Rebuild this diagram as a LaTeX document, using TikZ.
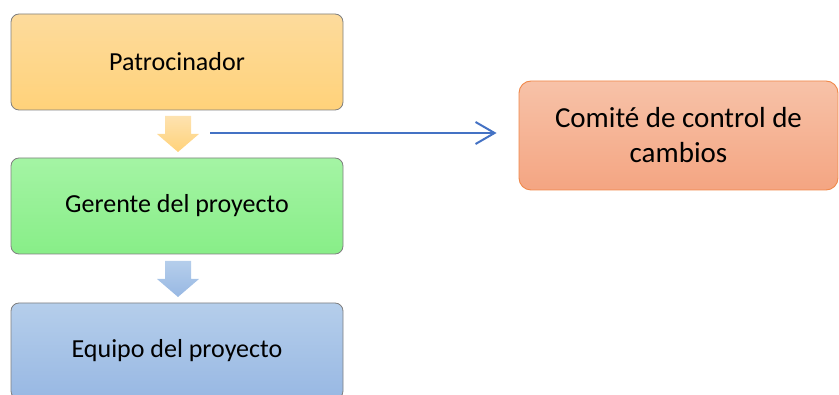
\documentclass[tikz,border=0pt]{standalone}
\usepackage{fontspec}
\setmainfont{Carlito}
\usetikzlibrary{arrows.meta}
\definecolor{goldT}{HTML}{FDDB9C}
\definecolor{goldB}{HTML}{FFD27A}
\definecolor{greenT}{HTML}{A4F4A4}
\definecolor{greenB}{HTML}{88EE88}
\definecolor{blueT}{HTML}{B5CEEB}
\definecolor{blueB}{HTML}{98B8E3}
\definecolor{orgT}{HTML}{F7C2A8}
\definecolor{orgB}{HTML}{F4A582}
\definecolor{orgD}{HTML}{F0884A}
\definecolor{lineblue}{HTML}{4472C4}
\definecolor{boxedge}{HTML}{7F7F7F}
\begin{document}
\begin{tikzpicture}[x=1pt,y=-1pt,
  box/.style={rectangle, rounded corners=8pt, draw=boxedge, line width=0.8pt,
    minimum width=332pt, minimum height=96pt, align=center,
    font=\fontsize{26}{32}\selectfont, text=black},
  bigbox/.style={rectangle, rounded corners=12pt, draw=orgD, line width=0.9pt,
    minimum width=319pt, minimum height=109pt, align=center,
    font=\fontsize{29}{35}\selectfont, text=black, top color=orgT, bottom color=orgB}]
\useasboundingbox (0,0) rectangle (839,395);
\clip (0,0) rectangle (839,395);
\node[box, top color=goldT, bottom color=goldB] (pat) at (177,62) {Patrocinador};
\node[box, top color=greenT, bottom color=greenB] (ger) at (177,206) {Gerente del proyecto};
\node[box, top color=blueT, bottom color=blueB] (eq) at (177,351) {Equipo del proyecto};
\node[bigbox] (cmt) at (678.5,135.5) {Comité de control de\\cambios};
% block arrows
\shade[top color=goldT!80!white, bottom color=goldB]
  (165,116) -- (191,116) -- (191,134) -- (199,134) -- (178,152) -- (157,134) -- (165,134) -- cycle;
\shade[top color=blueT, bottom color=blueB]
  (165,261) -- (191,261) -- (191,279) -- (199,279) -- (178,297) -- (157,279) -- (165,279) -- cycle;
\coordinate (ls) at (210,133);
\draw[lineblue, line width=2pt, -{Straight Barb[length=19pt,width=22pt,line width=2pt]}]
  (ls) -- (cmt.west |- ls) [shorten >=22pt];
\end{tikzpicture}
\end{document}
